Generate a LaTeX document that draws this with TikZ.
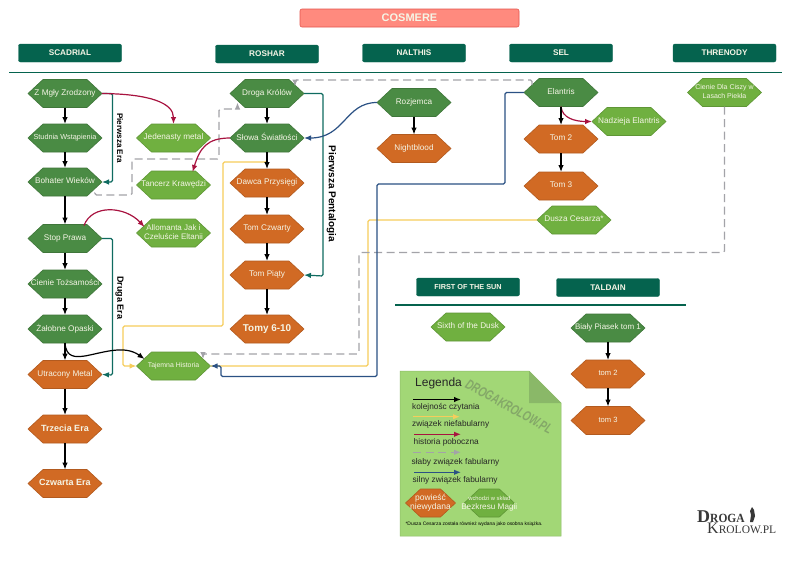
\documentclass[tikz,border=0pt]{standalone}
\usepackage{fontspec}
\setmainfont{Liberation Sans}
\newfontfamily\logofont{Liberation Serif}
\usetikzlibrary{arrows.meta,shapes.symbols}
\definecolor{hdr}{HTML}{05634E}
\definecolor{hexdark}{HTML}{4A8B44}
\definecolor{hexlight}{HTML}{70B040}
\definecolor{hexorange}{HTML}{D16A24}
\definecolor{hextext}{HTML}{F5F5E6}
\definecolor{tealline}{HTML}{0F6B60}
\definecolor{redline}{HTML}{A8123F}
\definecolor{blueline}{HTML}{2B5184}
\definecolor{yellowline}{HTML}{F6CD5C}
\definecolor{grayline}{HTML}{A3A3A8}
\definecolor{legendbg}{HTML}{A2D776}
\definecolor{legendfold}{HTML}{8AB868}
\definecolor{wmark}{HTML}{84A868}
\definecolor{titlefill}{HTML}{FF8A7E}
\definecolor{titleline}{HTML}{E5564E}
\newcommand{\hx}[1]{\makebox[0pt]{\begin{tabular}{@{}c@{}}#1\end{tabular}}}
\tikzset{
  fs/.style={font=\fontsize{#1}{9.2}\selectfont},
  hexa/.style={shape=signal,signal to=east and west,signal pointer angle=86,inner sep=0pt,outer sep=0pt,
    minimum width=74pt,minimum height=28pt,text=hextext,line width=0.6pt,line join=round,fs=8.2},
  dk/.style={hexa,fill=hexdark,draw=hexdark!85!black},
  lt/.style={hexa,fill=hexlight,draw=hexlight!85!black},
  og/.style={hexa,fill=hexorange,draw=hexorange!85!black},
  header/.style={rectangle,rounded corners=2pt,fill=hdr,draw=hdr,text=hextext,minimum width=103pt,minimum height=18pt,inner sep=0pt,font=\bfseries\fontsize{8.2}{9}\selectfont},
  rule/.style={draw=hdr,line width=1.3pt},
  conn/.style={line width=1.2pt,rounded corners=1.5pt},
  blackc/.style={conn,black,-{Latex[length=7pt,width=5.5pt]}},
  tealc/.style={conn,tealline,-{Latex[length=7pt,width=5.5pt]}},
  redc/.style={conn,redline,-{Latex[length=7pt,width=5.5pt]}},
  bluec/.style={conn,blueline,-{Latex[length=7pt,width=5.5pt]}},
  yellowc/.style={conn,yellowline,-{Latex[length=7pt,width=5.5pt]}},
  grayc/.style={conn,grayline,dash pattern=on 8pt off 4.5pt,-{Latex[length=7pt,width=5.5pt]}},
  sidelabel/.style={rotate=-90,font=\bfseries\fontsize{#1}{10}\selectfont,inner sep=0pt},
  legtext/.style={anchor=west,inner sep=0pt,text=black!85,font=\fontsize{8.3}{10}\selectfont},
  logotext/.style={anchor=west,inner sep=0pt,text=black!78}
}
\begin{document}
\begin{tikzpicture}[x=1pt,y=-1pt]
\useasboundingbox[fill=white] (0,0) rectangle (800,560);
% title and headers
\node[rectangle,rounded corners=2pt,fill=titlefill,draw=titleline,line width=0.6pt,text=hextext,minimum width=219pt,minimum height=18pt,inner sep=0pt,font=\bfseries\fontsize{11}{12}\selectfont] (cosmere) at (409.5,18) {COSMERE};
\node[header] (scadrial) at (70,53) {SCADRIAL};
\node[header] (roshar) at (267,54) {ROSHAR};
\node[header] (nalthis) at (414,53) {NALTHIS};
\node[header] (sel) at (561,53) {SEL};
\node[header] (threnody) at (724.5,53) {THRENODY};
\node[header,font=\bfseries\fontsize{7.3}{9}\selectfont] (first) at (468,287) {FIRST OF THE SUN};
\node[header] (taldain) at (608,287.5) {TALDAIN};
\coordinate (rule1a) at (9,72.3); \coordinate (rule1b) at (782,72.3);
\coordinate (rule2a) at (395,305); \coordinate (rule2b) at (686,305);
\draw[rule] (rule1a) -- (rule1b);
\draw[rule] (rule2a) -- (rule2b);
% Scadrial
\node[dk] (zmgly) at (65,93.5) {\hx{Z Mgły Zrodzony}};
\node[dk,fs=7.3] (studnia) at (65,138) {\hx{Studnia Wstąpienia}};
\node[dk] (bohater) at (65,182) {\hx{Bohater Wieków}};
\node[dk] (stop) at (65,238.5) {\hx{Stop Prawa}};
\node[dk] (cienie) at (65,284) {\hx{Cienie Tożsamości}};
\node[dk] (zalobne) at (65,329) {\hx{Żałobne Opaski}};
\node[og] (utracony) at (65,374.5) {\hx{Utracony Metal}};
\node[og,font=\bfseries\fontsize{9}{10}\selectfont] (trzecia) at (65,429) {\hx{Trzecia Era}};
\node[og,font=\bfseries\fontsize{9}{10}\selectfont] (czwarta) at (65,483.5) {\hx{Czwarta Era}};
\node[lt] (jedenasty) at (173.5,138) {\hx{Jedenasty metal}};
\node[lt] (tancerz) at (173.5,185) {\hx{Tancerz Krawędzi}};
\node[lt,fs=8] (allomanta) at (173.5,233) {\hx{Allomanta Jak i\\Czeluście Eltanii}};
\node[lt,fs=6.9] (tajemna) at (173.5,366) {\hx{Tajemna Historia}};
% Roshar
\node[dk] (droga) at (267,93.5) {\hx{Droga Królów}};
\node[dk] (slowa) at (267,138) {\hx{Słowa Światłości}};
\node[og] (dawca) at (267,183) {\hx{Dawca Przysięgi}};
\node[og] (czwarty) at (267,229) {\hx{Tom Czwarty}};
\node[og] (piaty) at (267,275) {\hx{Tom Piąty}};
\node[og,font=\bfseries\fontsize{9.9}{11}\selectfont] (tomy) at (267,329) {\hx{Tomy 6-10}};
% Nalthis
\node[dk] (rozjemca) at (414,102.5) {\hx{Rozjemca}};
\node[og] (nightblood) at (414,148.5) {\hx{Nightblood}};
% Sel
\node[dk] (elantris) at (561,92.5) {\hx{Elantris}};
\node[og] (tomdwa) at (561,139) {\hx{Tom 2}};
\node[og] (tomtrzy) at (561,186) {\hx{Tom 3}};
\node[lt] (nadzieja) at (629,121.5) {\hx{Nadzieja Elantris}};
\node[lt] (dusza) at (574,220) {\hx{Dusza Cesarza*}};
% Threnody
\node[lt,fs=7] (ciszy) at (724.5,92.5) {\hx{\fontsize{7}{8}\selectfont Cienie Dla Ciszy w\\Lasach Piekła}};
% lower block
\node[lt] (sixth) at (468,327) {\hx{Sixth of the Dusk}};
\node[dk,fs=8] (bialy) at (608,328) {\hx{Biały Piasek tom 1}};
\node[og,fs=7.6] (tldwa) at (608,374) {\hx{tom 2}};
\node[og,fs=7.6] (tltrzy) at (608,420.5) {\hx{tom 3}};
% side labels
\node[sidelabel=8.1] (eraone) at (120,138) {Pierwsza Era};
\node[sidelabel=9] (eratwo) at (119.5,298) {Druga Era};
\node[sidelabel=10] (penta) at (331.5,194) {Pierwsza Pentalogia};
% yellow
\draw[yellowc] (slowa.south) -- ++(0,10) -| (223,326) -| (123,366) -- (tajemna.west);
\draw[conn,yellowline] (dusza.west) -| (368,366) -- (tajemna.east);
% gray
\draw[grayc] ([shift={(-7,12)}]bohater.east) |- (132,195) |- (219,159) |- (237.5,109) -- ([shift={(-29.5,9)}]droga.center);
\draw[grayc] ([shift={(-29,-7.5)}]elantris.center) |- ([shift={(28,-13.5)}]droga.center) -- ([shift={(28,-7)}]droga.center);
\draw[grayc] (ciszy.south) |- (359,252.5) |- (203,354) -- ([shift={(29.5,-7)}]tajemna.center);
% teal
\draw[tealc] (zmgly.east) -| (112.5,182) -- (bohater.east);
\draw[tealc] (stop.east) -| (112.5,375) -- (utracony.east);
\draw[tealc] (droga.east) -| (323,276) -- (piaty.east);
% blue
\draw[bluec] (rozjemca.west) .. controls (345,102.5) and (345,138) .. (slowa.east);
\draw[bluec] (elantris.west) -| (505,184) -| (377,376.5) -| (221,366) -- (tajemna.east);
% red
\draw[redc] (zmgly.east) .. controls (150,94) and (173.5,103) .. (jedenasty.north);
\draw[redc] ([shift={(19,-13)}]stop.center) .. controls (92,204) and (125,206) .. ([shift={(-29,-6)}]allomanta.center);
\draw[redc] (slowa.west) .. controls (207,138) and (200,148) .. ([shift={(19,-13)}]tancerz.center);
\draw[redc] (elantris.south) .. controls (562,118) and (575,121.5) .. (nadzieja.west);
% black
\draw[blackc] (zmgly) -- (studnia);
\draw[blackc] (studnia) -- (bohater);
\draw[blackc] (bohater) -- (stop);
\draw[blackc] (stop) -- (cienie);
\draw[blackc] (cienie) -- (zalobne);
\draw[blackc] (zalobne) -- (utracony);
\draw[blackc] (utracony) -- (trzecia);
\draw[blackc] (trzecia) -- (czwarta);
\draw[blackc] (droga) -- (slowa);
\draw[blackc] (slowa) -- (dawca);
\draw[blackc] (dawca) -- (czwarty);
\draw[blackc] (czwarty) -- (piaty);
\draw[blackc] (piaty) -- (tomy);
\draw[blackc] (rozjemca) -- (nightblood);
\draw[blackc] (elantris) -- (tomdwa);
\draw[blackc] (tomdwa) -- (tomtrzy);
\draw[blackc] (bialy) -- (tldwa);
\draw[blackc] (tldwa) -- (tltrzy);
\draw[blackc] (zalobne.south) .. controls (66,358) and (76,357) .. (85,356) .. controls (105,352) and (125,345) .. ([shift={(-29,-7)}]tajemna.center);
% legend
\draw[fill=legendbg,draw=legendbg!88!black,line width=0.5pt] (400,371) -- (529,371) -- (561,403) -- (561,536) -- (400,536) -- cycle;
\fill[legendfold] (529,371) -- (561,403) -- (529,403) -- cycle;
\node[rotate=-29,text=wmark,font=\bfseries\itshape\fontsize{14}{15}\selectfont,inner sep=0pt] (watermark) at (509,406.5) {\scalebox{0.71}[1]{DROGAKROLOW.PL}};
\node[anchor=west,inner sep=0pt,text=black!85,font=\fontsize{12}{13}\selectfont] (legenda) at (415,383) {Legenda};
\coordinate (la1) at (413,399.5); \coordinate (lb1) at (461,399.5);
\coordinate (la2) at (413,416.7); \coordinate (lb2) at (460,416.7);
\coordinate (la3) at (414,434.3); \coordinate (lb3) at (461,434.3);
\coordinate (la4) at (413,452.3); \coordinate (lb4) at (461,452.3);
\coordinate (la5) at (414,472.3); \coordinate (lb5) at (461,472.3);
\draw[blackc] (la1) -- (lb1);
\draw[yellowc] (la2) -- (lb2);
\draw[redc] (la3) -- (lb3);
\draw[grayc] (la4) -- (lb4);
\draw[bluec] (la5) -- (lb5);
\node[legtext] (lt1) at (412,407.5) {kolejnośc czytania};
\node[legtext] (lt2) at (412,424.5) {związek niefabularny};
\node[legtext] (lt3) at (413.5,442.7) {historia poboczna};
\node[legtext] (lt4) at (411.5,462) {słaby związek fabularny};
\node[legtext] (lt5) at (412.5,480.3) {silny związek fabularny};
\node[og,minimum width=50pt,fs=8.5] (lego) at (430.5,503) {\hx{powieść\\niewydana}};
\node[lt,minimum width=50pt] (legl) at (489.3,503) {\hx{\fontsize{5.8}{7}\selectfont wchodzi w skład\\Bezkresu Magii}};
\node[anchor=west,inner sep=0pt,text=black,font=\fontsize{4.95}{6}\selectfont] (foot) at (405.3,524) {*Dusza Cesarza została również wydana jako osobna książka.};
% logo
\node[logotext,font=\bfseries\logofont\fontsize{12.5}{13}\selectfont] (logoa) at (697,516.5) {{\fontsize{18}{18}\selectfont D}\scalebox{0.92}[1]{ROGA}};
\node[logotext,font=\logofont\fontsize{11.5}{13}\selectfont] (logob) at (707,528) {{\fontsize{16}{16}\selectfont K}ROLOW.PL};
\fill[black!78] (752,507) -- (754,510) -- (755,516) -- (753,522) -- (750,522) -- (751,515) -- (750,511) -- cycle;
\end{tikzpicture}
\end{document}
